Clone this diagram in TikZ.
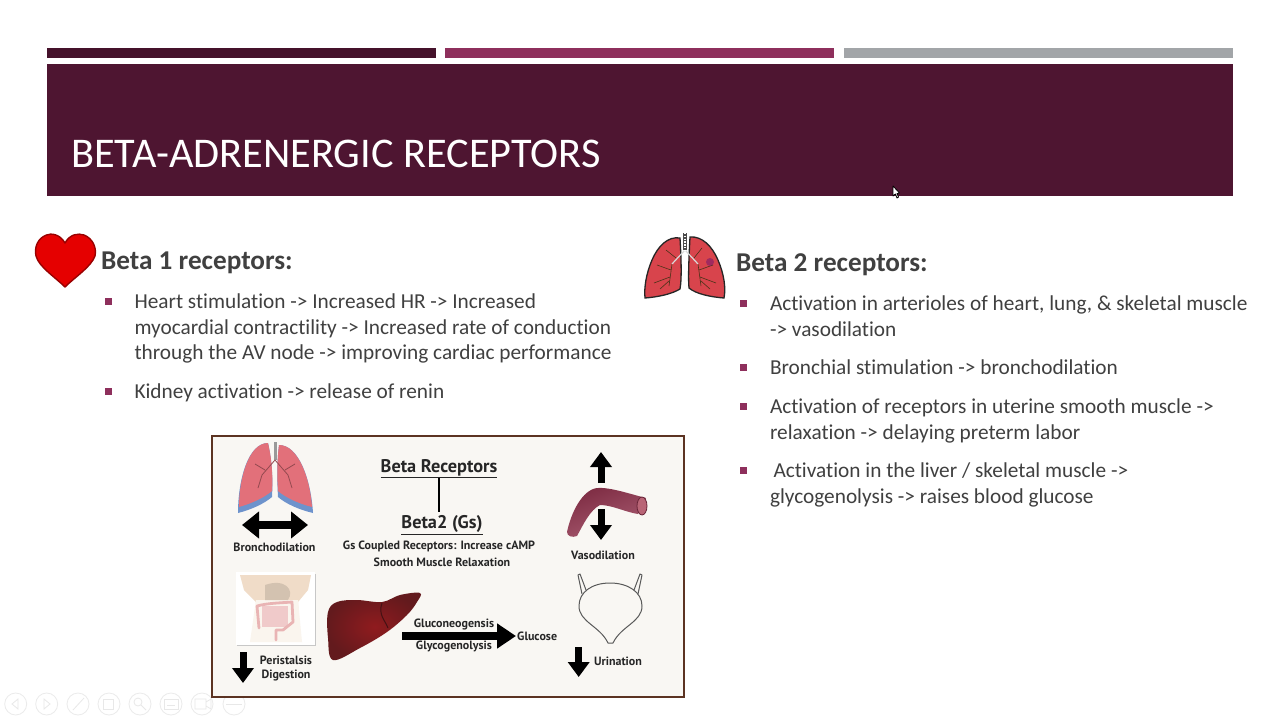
\documentclass[tikz,border=0pt]{standalone}
\usepackage{fontspec}
\setmainfont[Ligatures=NoCommon]{Carlito}
\newfontfamily\panelfont{PT Sans}
\usetikzlibrary{arrows.meta}
\definecolor{wine}{HTML}{4E1531}
\definecolor{darkbar}{HTML}{45122B}
\definecolor{plum}{HTML}{8E2F5C}
\definecolor{greybar}{HTML}{A2A5A8}
\definecolor{bodytext}{HTML}{404040}
\definecolor{panelbg}{HTML}{F9F7F3}
\definecolor{panelrim}{HTML}{5C3322}
\definecolor{lungred}{HTML}{D8444C}
\definecolor{lungpink}{HTML}{E2707A}
\definecolor{lungblue}{HTML}{6E93CC}
\definecolor{liverred}{HTML}{7C2024}
\definecolor{vessel}{HTML}{94344F}
\definecolor{skin}{HTML}{F0DCC8}
\definecolor{gutpink}{HTML}{E9B4B4}
\tikzset{
  x=1pt,y=-1pt,
  bar/.style={fill=#1,draw=none},
  bodyline/.style={anchor=north west,inner sep=0,outer sep=0,align=left,text=bodytext,
    font=\fontsize{21.3}{25.6}\selectfont},
  headline/.style={anchor=base west,inner sep=0,text=bodytext,font=\fontsize{27.2}{30}\selectfont\bfseries},
  bulletmark/.style={fill=plum,draw=none,minimum size=7pt,inner sep=0,outer sep=0,anchor=center},
  panellabel/.style={inner sep=0,text=black!85,font=\panelfont\fontsize{12}{14}\selectfont\bfseries,align=center},
  paneltitle/.style={inner sep=0,text=black!85,font=\panelfont\fontsize{18.3}{21}\selectfont\bfseries},
  fatarrow/.style={-{Triangle[width=21pt,length=15pt]},line width=7pt,black},
  longarrow/.style={-{Triangle[width=24pt,length=19pt]},line width=8pt,black},
  fatboth/.style={{Triangle[width=26pt,length=17pt]}-{Triangle[width=26pt,length=17pt]},line width=8pt,black},
  toolring/.style={draw=black!8,line width=0.8pt,circle,minimum size=22pt,inner sep=0},
  toolglyph/.style={draw=black!9,line width=0.8pt},
}
\begin{document}
\begin{tikzpicture}
\useasboundingbox (0,0) rectangle (1280,720);
\fill[white] (0,0) rectangle (1280,720);
% slide-show toolbar
\foreach \cx/\n in {15.7/a,46.7/b,78/c,109/d,140/e,171/f,202/g,234/h}
  \node[toolring] (tool\n) at (\cx,704) {};
\draw[toolglyph] (18,699) -- (12,704) -- (18,709) -- cycle;
\draw[toolglyph] (44,699) -- (50,704) -- (44,709) -- cycle;
\draw[toolglyph] (73,710) -- (84,698);
\draw[toolglyph] (103,699) rectangle (113,709);
\draw[toolglyph] (138,702) circle (4) (141,705) -- (146,710);
\draw[toolglyph] (164,699) rectangle (178,709) (167,705) -- (175,705);
\draw[toolglyph] (195,699) rectangle (206,709) (206,702) -- (211,699) -- (211,709) -- (206,706);
\draw[toolglyph] (226,704) -- (242,704);
% top bars and title band
\fill[bar=darkbar] (47,48) rectangle (436,58);
\fill[bar=plum] (445,48) rectangle (834,58);
\fill[bar=greybar] (844,48) rectangle (1233,58);
\fill[bar=wine] (47,64) rectangle (1233,196);
\node[anchor=base west,inner sep=0,text=white,font=\fontsize{42.3}{46}\selectfont] (title) at (71,167) {BETA-ADRENERGIC RECEPTORS};
% cursor
\draw[fill=white,draw=black,line width=0.8pt,line join=round] (893,186) -- (893,196) -- (895.4,194) -- (897,198) -- (898.6,197) -- (897,193.6) -- (899.5,193) -- cycle;
% heart
\filldraw[fill=red!90!black,draw=red!60!black,line width=1.4pt,line join=round]
  (65,243) .. controls (60,234) and (51,233) .. (46.5,235)
  .. controls (38,238) and (34,247) .. (36,256)
  .. controls (39,267) and (55,277) .. (65,287)
  .. controls (75,277) and (91,267) .. (95,256)
  .. controls (97,247) and (92,238) .. (84,235)
  .. controls (78,233) and (70,234) .. (65,243) -- cycle;
% left column
\node[headline] (b1head) at (101,269) {Beta 1 receptors:};
\node[bulletmark] (b1a) at (108,301) {};
\node[bodyline] (b1t1) at (134.5,294) {Heart stimulation -> Increased HR -> Increased\\myocardial contractility -> Increased rate of conduction\\through the AV node -> improving cardiac performance};
\node[bulletmark] (b1b) at (108,391) {};
\node[bodyline] (b1t2) at (134.5,384) {Kidney activation -> release of renin};
% small lungs
\begin{scope}[line width=1.3pt,draw=black!85]
\filldraw[fill=lungred] (680,238) .. controls (668,236) and (658,246) .. (652,260)
  .. controls (646,274) and (644,288) .. (645,298)
  .. controls (658,297) and (672,294) .. (680,289)
  .. controls (682,278) and (681,256) .. (680,238) -- cycle;
\filldraw[fill=lungred] (690,237) .. controls (702,236) and (712,246) .. (718,260)
  .. controls (724,274) and (726,288) .. (724,298)
  .. controls (711,297) and (696,294) .. (689,288)
  .. controls (688,278) and (689,256) .. (690,237) -- cycle;
\end{scope}
\draw[black!15,line width=1.2pt] (685,250) -- (672,264);
\draw[black!15,line width=1.2pt] (685,250) -- (698,264);
\draw[black!70,line width=3.4pt] (685,233) -- (685,250);
\draw[white,line width=2.4pt,dash pattern=on 1.4pt off 1.4pt] (685,233) -- (685,250);
\begin{scope}[draw=black!60!brown,line width=0.6pt]
\draw (672,264) -- (669,286) (671,270) -- (657,265) (670,277) -- (654,283) (669,281) -- (660,289);
\draw (698,264) -- (701,286) (699,270) -- (713,265) (700,277) -- (716,283) (701,281) -- (710,289);
\draw (676,258) -- (666,250) (694,258) -- (702,248);
\end{scope}
\fill[violet!35!plum,opacity=.7] (710,262) circle (4);
% right column
\node[headline] (b2head) at (736,271) {Beta 2 receptors:};
\node[bulletmark] (b2a) at (743,303) {};
\node[bodyline] (b2t1) at (770,296) {Activation in arterioles of heart, lung, \& skeletal muscle\\-> vasodilation};
\node[bulletmark] (b2b) at (743,367) {};
\node[bodyline] (b2t2) at (770,360) {Bronchial stimulation -> bronchodilation};
\node[bulletmark] (b2c) at (743,406) {};
\node[bodyline] (b2t3) at (770,399) {Activation of receptors in uterine smooth muscle ->\\relaxation -> delaying preterm labor};
\node[bulletmark] (b2d) at (743,470) {};
\node[bodyline] (b2t4) at (770,463) {\hspace{3.5pt}Activation in the liver / skeletal muscle ->\\glycogenolysis -> raises blood glucose};
% panel
\filldraw[fill=panelbg,draw=panelrim,line width=2.4pt] (212,436) rectangle (684,697);
% big lungs
\fill[lungblue] (268,443) .. controls (248,443) and (238,480) .. (238,513)
  .. controls (250,510) and (264,504) .. (272,497)
  .. controls (273,480) and (272,460) .. (268,443) -- cycle;
\fill[lungblue] (279,445) .. controls (299,445) and (311,480) .. (313,513)
  .. controls (300,510) and (286,504) .. (278,497)
  .. controls (277,480) and (277,460) .. (279,445) -- cycle;
\fill[lungpink] (268,443) .. controls (249,443) and (239,478) .. (239,507)
  .. controls (250,504) and (264,498) .. (272,491)
  .. controls (273,478) and (272,460) .. (268,443) -- cycle;
\fill[lungpink] (279,445) .. controls (298,445) and (310,478) .. (312,507)
  .. controls (300,504) and (286,498) .. (278,491)
  .. controls (277,478) and (277,460) .. (279,445) -- cycle;
\draw[black!40,line width=3pt] (275,442) -- (275,460);
\draw[black!35!lungpink,line width=.8pt] (275,460) -- (262,475) (275,460) -- (288,475) (265,470) -- (255,464) (285,470) -- (295,464) (262,475) -- (258,488) (288,475) -- (292,488);
\coordinate (bdl) at (242,525); \coordinate (bdr) at (308,525);
\draw[fatboth] (bdl) -- (bdr);
\node[panellabel] (bronch) at (274.5,547) {Bronchodilation};
% centre texts
\node[paneltitle] (betarec) at (439,468.5) {\underline{Beta Receptors}};
\node[paneltitle] (betatwo) at (442,525) {\underline{Beta2 (Gs)}};
\draw[black,line width=1.8pt] (439,478) -- (439,512);
\node[panellabel] (gscoup) at (439,546) {Gs Coupled Receptors: Increase cAMP};
\node[panellabel] (smooth) at (442,562) {Smooth Muscle Relaxation};
% gut image
\fill[black!22] (237,574) rectangle (316,646);
\fill[white] (236,572) rectangle (315,645);
\fill[skin] (240,575) -- (311,575) -- (308,590) -- (298,602) -- (300,640) -- (254,640) -- (256,602) -- (244,590) -- cycle;
\fill[white!70!skin] (256,600) -- (298,600) -- (302,642) -- (250,642) -- cycle;
\fill[black!12!skin] (265,585) .. controls (285,578) and (295,590) .. (288,600) -- (265,600) -- cycle;
\fill[gutpink!70!white] (262,606) rectangle (288,627);
\draw[gutpink,line width=2.8pt,line join=round,line cap=round] (259,628) -- (257,606) .. controls (268,603) and (280,603) .. (292,602) -- (293,622) -- (283,630) -- (276,630) -- (276,640);
\coordinate (pa) at (243,652); \coordinate (pb) at (243,683);
\draw[fatarrow] (pa) -- (pb);
\node[panellabel] (peri) at (286,668) {Peristalsis\\Digestion};
% liver
\shade[shading=radial,inner color=liverred!85!red,outer color=liverred!80!black]
  plot[smooth cycle,tension=.6] coordinates {(328,612) (337,602) (357,600) (382,602) (400,595) (420,593) (417,602) (407,615) (387,632) (360,648) (333,660) (328,638)};
\draw[black!45!liverred,line width=1pt] (382,603) .. controls (378,615) and (385,620) .. (388,628);
% long arrow
\coordinate (ga) at (402,636); \coordinate (gb) at (516,636);
\draw[longarrow] (ga) -- (gb);
\node[panellabel,fill=panelbg,inner sep=1pt] (gluco) at (454,624.5) {Gluconeogensis};
\node[panellabel,fill=panelbg,inner sep=1pt] (glyco) at (454,646.5) {Glycogenolysis};
\node[panellabel,anchor=west] (glucose) at (517,636) {Glucose};
% vessel
\coordinate (va) at (601,483); \coordinate (vb) at (601,452);
\coordinate (vc) at (601,509); \coordinate (vd) at (601,540);
\shade[left color=vessel!85!black,right color=vessel!80!white,shading angle=20]
  (567,532) .. controls (571,513) and (582,490) .. (597,488)
  .. controls (610,487) and (630,494) .. (646,498)
  -- (638,514)
  .. controls (625,512) and (612,505) .. (600,505)
  .. controls (590,510) and (583,525) .. (577,536)
  .. controls (572,538) and (567,536) .. (567,532) -- cycle;
\draw[vessel!70!black,line width=.8pt,fill=vessel!65!pink] (642,506) ellipse (5 and 9);
\draw[fatarrow] (va) -- (vb);
\draw[fatarrow] (vc) -- (vd);
\node[panellabel] (vaso) at (603,555) {Vasodilation};
% bladder
\begin{scope}[draw=black!65,line width=1pt,line join=round]
\draw (610,583) .. controls (592,583) and (579,592) .. (579,606)
  .. controls (579,622) and (600,626) .. (608,643) -- (613,643)
  .. controls (621,626) and (642,622) .. (642,606)
  .. controls (642,592) and (628,583) .. (610,583);
\draw (586,590) -- (580,574) -- (578,575) -- (582,594);
\draw (634,590) -- (640,574) -- (642,575) -- (638,594);
\end{scope}
\coordinate (ua) at (578.7,647); \coordinate (ub) at (578.7,677);
\draw[fatarrow] (ua) -- (ub);
\node[panellabel] (urin) at (618,661) {Urination};
\end{tikzpicture}
\end{document}
